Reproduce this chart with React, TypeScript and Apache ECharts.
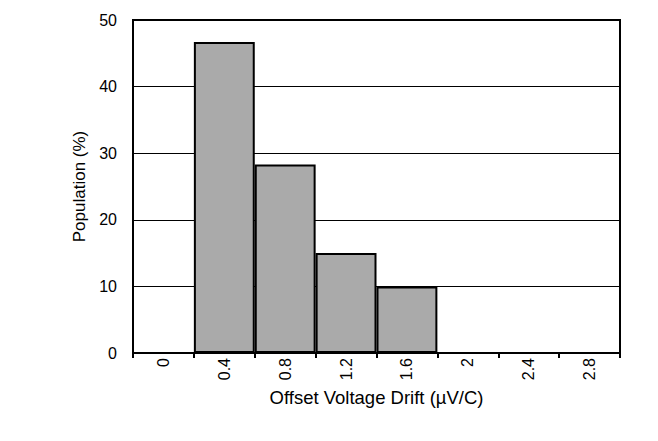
import React, { useEffect, useRef } from "react";
import * as echarts from "echarts";

const categories = ["0", "0.4", "0.8", "1.2", "1.6", "2", "2.4", "2.8"];
const population = [0, 46.7, 28.3, 15, 10, 0, 0, 0];
const yTicks = { min: 0, max: 50, interval: 10 };

export default function App() {
  const ref = useRef<HTMLDivElement>(null);
  useEffect(() => {
    const chart = echarts.init(ref.current!, null, { renderer: "svg" });
    const font = "Liberation Sans, Arial, sans-serif";
    chart.setOption({
      animation: false,
      backgroundColor: "#ffffff",
      textStyle: { fontFamily: font },
      grid: {
        left: 133,
        right: 38,
        top: 20,
        bottom: 88,
        show: true,
        borderColor: "#000",
        borderWidth: 2,
        backgroundColor: "transparent",
      },
      graphic: [
        {
          type: "line",
          z: 100,
          silent: true,
          shape: { x1: 1, y1: 6.5, x2: 657, y2: 6.5 },
          style: { stroke: "#111111", lineWidth: 2 },
        },
      ],
      xAxis: {
        type: "category",
        data: categories,
        name: "Offset Voltage Drift (µV/C)",
        nameLocation: "middle",
        nameGap: 35,
        nameTextStyle: { fontSize: 18.5, color: "#000", fontFamily: font },
        axisLine: { show: true, lineStyle: { color: "#000", width: 2 } },
        axisTick: { show: true, length: 5, lineStyle: { color: "#000", width: 2 } },
        axisLabel: { rotate: 90, fontSize: 16, color: "#000", margin: 5, fontFamily: font },
        splitLine: { show: false },
      },
      yAxis: {
        type: "value",
        min: yTicks.min,
        max: yTicks.max,
        interval: yTicks.interval,
        name: "Population (%)",
        nameLocation: "middle",
        nameGap: 44,
        nameTextStyle: { fontSize: 17, color: "#000", fontFamily: font },
        axisLine: { show: true, lineStyle: { color: "#000", width: 2 } },
        axisTick: { show: false },
        axisLabel: { fontSize: 16, color: "#000", margin: 16, fontFamily: font },
        splitLine: { show: true, lineStyle: { color: "#000", width: 1 } },
      },
      series: [
        {
          type: "bar",
          data: population,
          barCategoryGap: "0%",
          itemStyle: { color: "#aaaaaa", borderColor: "#000", borderWidth: 2 },
        },
      ],
    });
    return () => chart.dispose();
  }, []);
  return (
    <div style={{ margin: -8, width: 658, height: 441, overflow: "hidden" }}>
      <div ref={ref} style={{ width: 658, height: 441 }} />
    </div>
  );
}
